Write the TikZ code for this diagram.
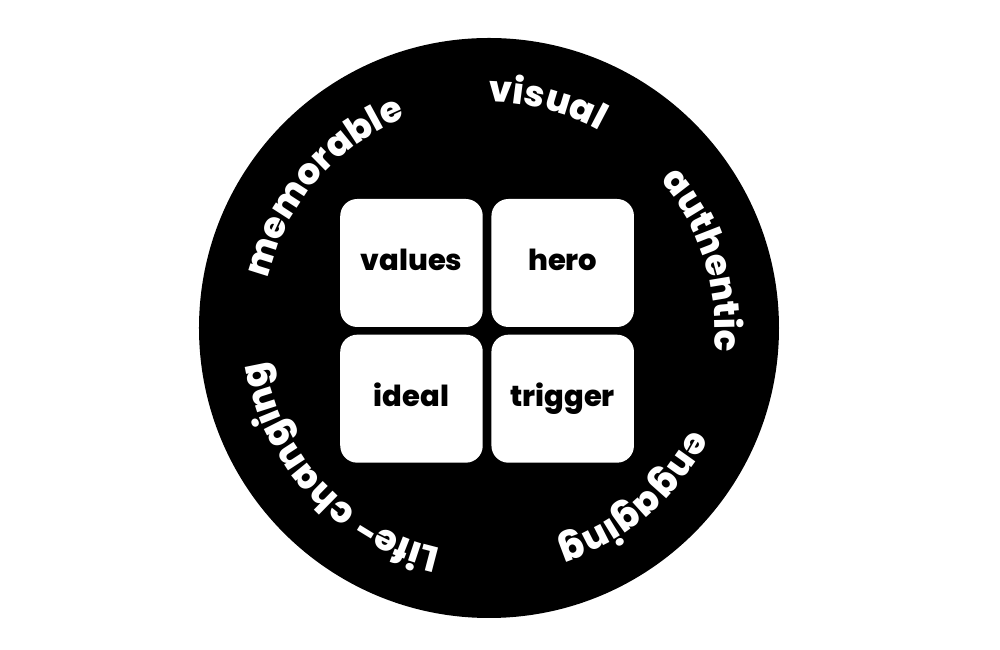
\documentclass[tikz,border=0pt]{standalone}
\usepackage{fontspec}
\setmainfont{Poppins}[BoldFont={Poppins ExtraBold}]
\usetikzlibrary{decorations.text,positioning}
\newcommand{\ringfont}{\fontsize{20.5}{24}\selectfont\bfseries}
\newcommand{\cellfont}{\fontsize{16.5}{20}\selectfont\bfseries}
\tikzset{
	cell/.style={fill=white, rounded corners=0.34cm, minimum width=2.85cm, minimum height=2.56cm,
		inner sep=0pt, text height=0.32cm, text depth=0pt, font=\cellfont}
}
\begin{document}
\begin{tikzpicture}
		\useasboundingbox (-9.78,-6.44) rectangle (10.22,6.56);
		% Circle parameters
		\def\radius{5.8cm}
		\def\textradius{4.52cm}
		\fill[black] (0,0) circle (\radius);
		% Words around the ring, read clockwise
		\foreach \word/\mid in {memorable/139.5, visual/75.5, authentic/17.5, engaging/-49.5, Life- changing/223} {
			\pgfmathsetmacro{\startangle}{\mid + 45}
			\pgfmathsetmacro{\endangle}{\mid - 45}
			\path[decorate, decoration={text along path, text align=center, text color=white,
				text/.expanded={|\noexpand\ringfont|\word}}]
				(\startangle:\textradius) arc[start angle=\startangle, end angle=\endangle, radius=\textradius];
		}
		% Four cells in the middle
		\node[cell] (values) at (-1.55,1.30) {values};
		\node[cell, right=0.16cm of values] (hero) {hero};
		\node[cell, below=0.14cm of values] (ideal) {ideal};
		\node[cell, right=0.16cm of ideal] (trigger) {trigger};
		\end{tikzpicture}
\end{document}
